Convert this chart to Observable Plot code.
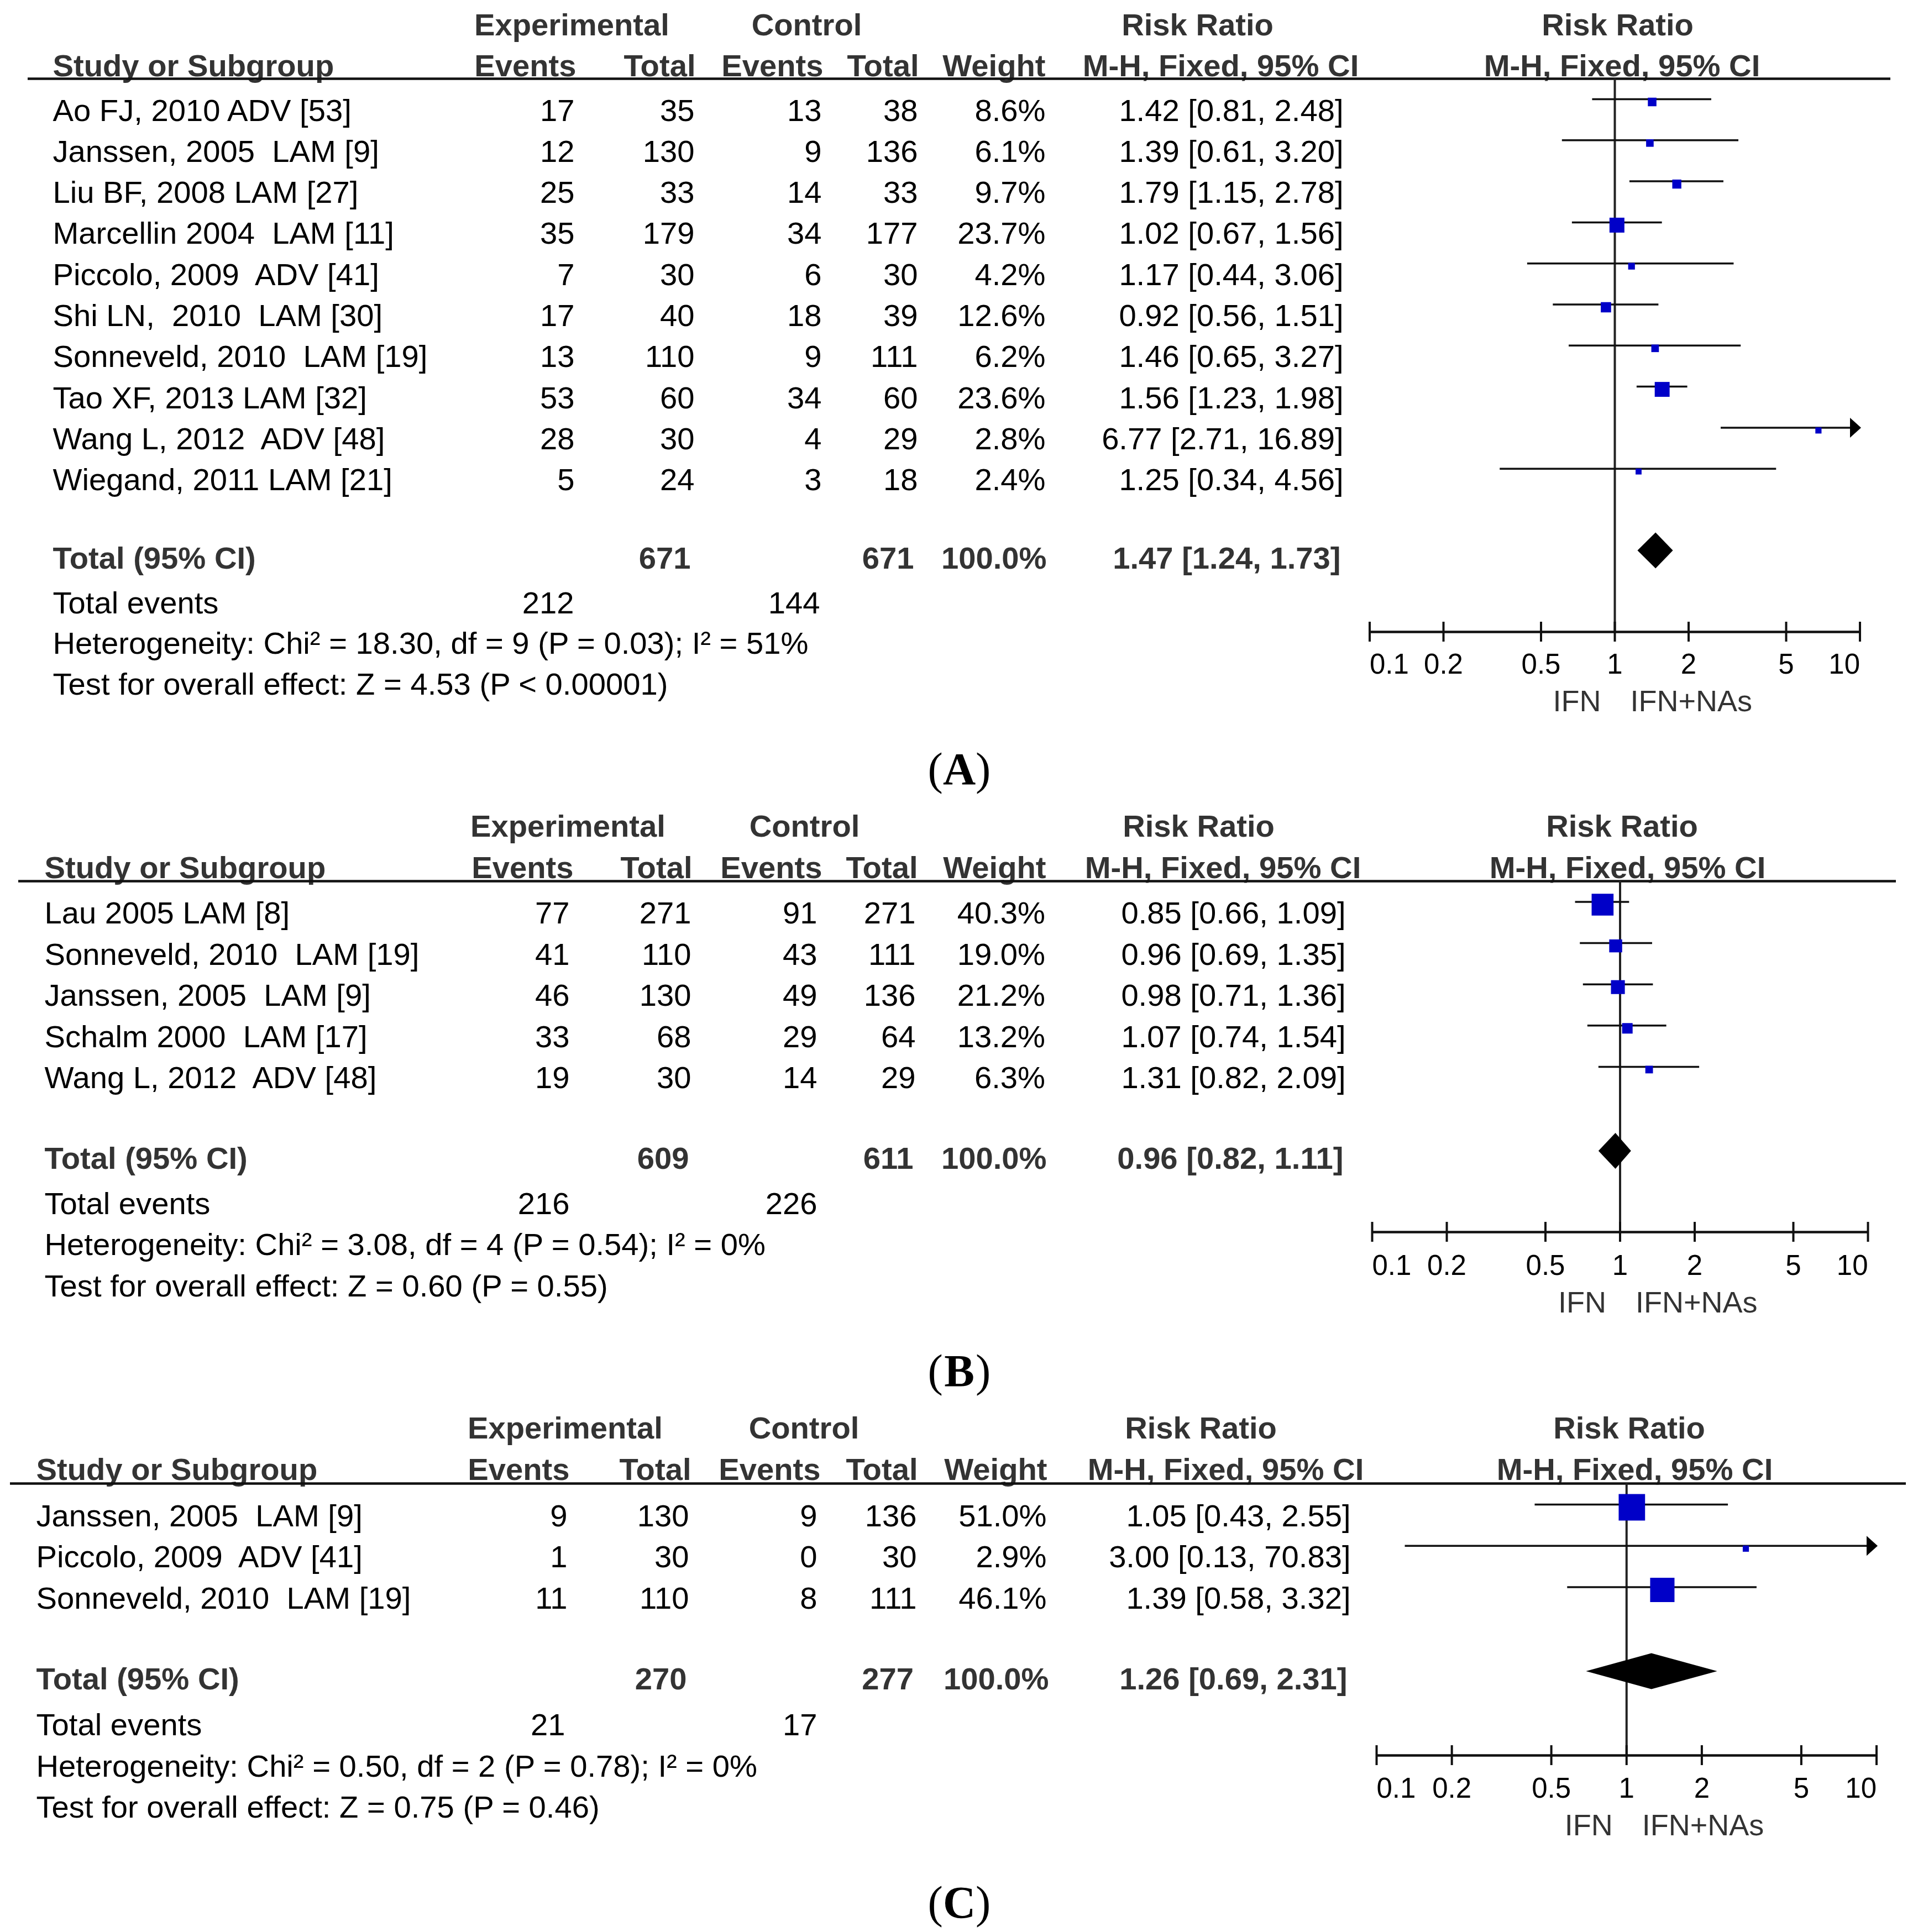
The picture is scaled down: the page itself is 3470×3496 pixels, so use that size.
<!DOCTYPE html>
<html><head><meta charset="utf-8">
<script src="https://cdn.jsdelivr.net/npm/d3@7"></script>
<script src="https://cdn.jsdelivr.net/npm/@observablehq/plot@0.6"></script>
<style>
html,body{margin:0;padding:0;background:#fff;overflow:hidden;}
#chart{width:3470px;height:3496px;background:#fff;}
#chart svg{display:block;}
svg text{white-space:pre;}
</style></head><body><div id="chart"></div>
<script>
// ---------------- shared labels ----------------
const HEAD1 = ["Experimental", "Control", "Risk Ratio", "Risk Ratio"];
const HEAD2 = ["Study or Subgroup", "Events", "Total", "Events", "Total", "Weight", "M-H, Fixed, 95% CI", "M-H, Fixed, 95% CI"];
const TICKS = [0.1, 0.2, 0.5, 1, 2, 5, 10];
const TICK_LABELS = ["0.1", "0.2", "0.5", "1", "2", "5", "10"];
const SIDE_LABELS = ["IFN", "IFN+NAs"];
const TOTAL_LABELS = ["Total (95% CI)", "Total events"];

// ---------------- panel A ----------------
const A_study = ["Ao FJ, 2010 ADV [53]", "Janssen, 2005  LAM [9]", "Liu BF, 2008 LAM [27]", "Marcellin 2004  LAM [11]", "Piccolo, 2009  ADV [41]", "Shi LN,  2010  LAM [30]", "Sonneveld, 2010  LAM [19]", "Tao XF, 2013 LAM [32]", "Wang L, 2012  ADV [48]", "Wiegand, 2011 LAM [21]"];
const A_expEvents = [17, 12, 25, 35, 7, 17, 13, 53, 28, 5];
const A_expTotal = [35, 130, 33, 179, 30, 40, 110, 60, 30, 24];
const A_ctlEvents = [13, 9, 14, 34, 6, 18, 9, 34, 4, 3];
const A_ctlTotal = [38, 136, 33, 177, 30, 39, 111, 60, 29, 18];
const A_weight = [8.6, 6.1, 9.7, 23.7, 4.2, 12.6, 6.2, 23.6, 2.8, 2.4];
const A_rr = [1.42, 1.39, 1.79, 1.02, 1.17, 0.92, 1.46, 1.56, 6.77, 1.25];
const A_lo = [0.81, 0.61, 1.15, 0.67, 0.44, 0.56, 0.65, 1.23, 2.71, 0.34];
const A_hi = [2.48, 3.20, 2.78, 1.56, 3.06, 1.51, 3.27, 1.98, 16.89, 4.56];
const A_totals = [671, 671];
const A_totalWeight = 100.0;
const A_pooled = [1.47, 1.24, 1.73];
const A_events = [212, 144];
const A_het = "Heterogeneity: Chi\u00B2 = 18.30, df = 9 (P = 0.03); I\u00B2 = 51%";
const A_test = "Test for overall effect: Z = 4.53 (P < 0.00001)";

// ---------------- panel B ----------------
const B_study = ["Lau 2005 LAM [8]", "Sonneveld, 2010  LAM [19]", "Janssen, 2005  LAM [9]", "Schalm 2000  LAM [17]", "Wang L, 2012  ADV [48]"];
const B_expEvents = [77, 41, 46, 33, 19];
const B_expTotal = [271, 110, 130, 68, 30];
const B_ctlEvents = [91, 43, 49, 29, 14];
const B_ctlTotal = [271, 111, 136, 64, 29];
const B_weight = [40.3, 19.0, 21.2, 13.2, 6.3];
const B_rr = [0.85, 0.96, 0.98, 1.07, 1.31];
const B_lo = [0.66, 0.69, 0.71, 0.74, 0.82];
const B_hi = [1.09, 1.35, 1.36, 1.54, 2.09];
const B_totals = [609, 611];
const B_totalWeight = 100.0;
const B_pooled = [0.96, 0.82, 1.11];
const B_events = [216, 226];
const B_het = "Heterogeneity: Chi\u00B2 = 3.08, df = 4 (P = 0.54); I\u00B2 = 0%";
const B_test = "Test for overall effect: Z = 0.60 (P = 0.55)";

// ---------------- panel C ----------------
const C_study = ["Janssen, 2005  LAM [9]", "Piccolo, 2009  ADV [41]", "Sonneveld, 2010  LAM [19]"];
const C_expEvents = [9, 1, 11];
const C_expTotal = [130, 30, 110];
const C_ctlEvents = [9, 0, 8];
const C_ctlTotal = [136, 30, 111];
const C_weight = [51.0, 2.9, 46.1];
const C_rr = [1.05, 3.00, 1.39];
const C_lo = [0.43, 0.13, 0.58];
const C_hi = [2.55, 70.83, 3.32];
const C_totals = [270, 277];
const C_totalWeight = 100.0;
const C_pooled = [1.26, 0.69, 2.31];
const C_events = [21, 17];
const C_het = "Heterogeneity: Chi\u00B2 = 0.50, df = 2 (P = 0.78); I\u00B2 = 0%";
const C_test = "Test for overall effect: Z = 0.75 (P = 0.46)";

// ---------------- style / layout ----------------
const W = 3470;
const FONT = "'Liberation Sans', Arial, Helvetica, sans-serif";
const SERIF = "'Liberation Serif', 'Times New Roman', serif";
const FS = 56.2, FS_TICK = 51, FS_SIDE = 54, FS_LABEL = 82;
const INK = "#000", HEADC = "#333", BLUE = "#0000C8", LINE = "#111";

const LA = {top: 0, height: 1460, rule: [50, 3420], ruleY: 142, first: 218, step: 74.3,
  head1: 63, head2: 137, total: 1028, events: 1109, het: 1182, test: 1256,
  axisY: 1143, tickLab: 1218, side: 1286, label: 1418, xr: [2477.5, 3364.5],
  col: {study: 95, expE: 1039, expT: 1256, ctlE: 1486, ctlT: 1660, wt: 1891, ci: 2430},
  tot: {expT: 1249, ctlT: 1653, wt: 1893, ci: 2425}, ev: {expE: 1038, ctlE: 1483},
  h1: [1034, 1459, 2166, 2926], h2: [95, 1042, 1258, 1489, 1662, 1891, 2208, 2934]};
const LB = {top: 1460, height: 1085, rule: [33, 3430], ruleY: 1594, first: 1670.5, step: 74.6,
  head1: 1513, head2: 1588, total: 2114.5, events: 2196, het: 2270.5, test: 2345,
  axisY: 2229, tickLab: 2306, side: 2374, label: 2507, xr: [2482, 3379],
  col: {study: 80, expE: 1030, expT: 1250, ctlE: 1478, ctlT: 1656, wt: 1890.5, ci: 2434},
  tot: {expT: 1246, ctlT: 1652, wt: 1893, ci: 2430}, ev: {expE: 1030, ctlE: 1478},
  h1: [1027, 1455, 2168, 2934], h2: [80, 1037, 1252, 1487, 1660, 1892, 2212, 2944]};
const LC = {top: 2545, height: 951, rule: [18, 3448], ruleY: 2684, first: 2761, step: 74.8,
  head1: 2602, head2: 2677, total: 3056, events: 3139, het: 3214, test: 3288,
  axisY: 3176, tickLab: 3252, side: 3320, label: 3469, xr: [2490, 3394.5],
  col: {study: 65, expE: 1026, expT: 1246, ctlE: 1478, ctlT: 1658, wt: 1893, ci: 2443},
  tot: {expT: 1242, ctlT: 1652.5, wt: 1897, ci: 2437}, ev: {expE: 1022, ctlE: 1478},
  h1: [1022, 1454, 2172, 2947], h2: [65, 1030, 1250, 1484, 1660, 1894, 2217, 2957]};

// filled arrow head pointing right, tip at the anchor
const ARROW = {draw(ctx) { ctx.moveTo(0, 0); ctx.lineTo(-20, -18); ctx.lineTo(-20, 18); ctx.closePath(); }};

const fmt2 = v => v.toFixed(2);
const ciText = (r, l, h) => `${fmt2(r)} [${fmt2(l)}, ${fmt2(h)}]`;

function panel(D, L, letter) {
  const ml = L.rule[0], mr = W - L.rule[1];
  const row = px => (px - L.first) / L.step;       // layout position -> row units
  const at = px => px - ml;                         // horizontal offset from frame left
  const rows = D.study.map((s, i) => ({row: i, study: s, expE: D.expEvents[i], expT: D.expTotal[i],
    ctlE: D.ctlEvents[i], ctlT: D.ctlTotal[i], w: D.weight[i], rr: D.rr[i], lo: D.lo[i], hi: D.hi[i]}));
  const T = (data, o) => Plot.text(data, {frameAnchor: "left", lineAnchor: "bottom", fontSize: FS, fill: INK, ...o});
  const marks = [];

  // header rows
  HEAD1.forEach((t, k) => marks.push(T([t], {y: () => row(L.head1), text: d => d, textAnchor: "middle", dx: at(L.h1[k]), fontWeight: "bold", fill: HEADC})));
  const anch2 = ["start", "end", "end", "end", "end", "end", "middle", "middle"];
  HEAD2.forEach((t, k) => marks.push(T([t], {y: () => row(L.head2), text: d => d, textAnchor: anch2[k], dx: at(L.h2[k]), fontWeight: "bold", fill: HEADC})));
  marks.push(Plot.ruleY([row(L.ruleY)], {stroke: LINE, strokeWidth: 4.5}));

  // study rows
  marks.push(T(rows, {y: "row", text: "study", textAnchor: "start", dx: at(L.col.study)}));
  marks.push(T(rows, {y: "row", text: d => String(d.expE), textAnchor: "end", dx: at(L.col.expE)}));
  marks.push(T(rows, {y: "row", text: d => String(d.expT), textAnchor: "end", dx: at(L.col.expT)}));
  marks.push(T(rows, {y: "row", text: d => String(d.ctlE), textAnchor: "end", dx: at(L.col.ctlE)}));
  marks.push(T(rows, {y: "row", text: d => String(d.ctlT), textAnchor: "end", dx: at(L.col.ctlT)}));
  marks.push(T(rows, {y: "row", text: d => d.w.toFixed(1) + "%", textAnchor: "end", dx: at(L.col.wt)}));
  marks.push(T(rows, {y: "row", text: d => ciText(d.rr, d.lo, d.hi), textAnchor: "end", dx: at(L.col.ci)}));

  // total row (bold)
  const tr = row(L.total);
  const bold = {y: () => tr, fontWeight: "bold", fill: HEADC, text: d => d};
  marks.push(T([TOTAL_LABELS[0]], {...bold, textAnchor: "start", dx: at(L.col.study)}));
  marks.push(T([String(D.totals[0])], {...bold, textAnchor: "end", dx: at(L.tot.expT)}));
  marks.push(T([String(D.totals[1])], {...bold, textAnchor: "end", dx: at(L.tot.ctlT)}));
  marks.push(T([D.totalWeight.toFixed(1) + "%"], {...bold, textAnchor: "end", dx: at(L.tot.wt)}));
  marks.push(T([ciText(...D.pooled)], {...bold, textAnchor: "end", dx: at(L.tot.ci)}));

  // total events, heterogeneity, overall effect
  const er = row(L.events);
  marks.push(T([TOTAL_LABELS[1]], {y: () => er, text: d => d, textAnchor: "start", dx: at(L.col.study)}));
  marks.push(T([String(D.events[0])], {y: () => er, text: d => d, textAnchor: "end", dx: at(L.ev.expE)}));
  marks.push(T([String(D.events[1])], {y: () => er, text: d => d, textAnchor: "end", dx: at(L.ev.ctlE)}));
  marks.push(T([D.het], {y: () => row(L.het), text: d => d, textAnchor: "start", dx: at(L.col.study)}));
  marks.push(T([D.test], {y: () => row(L.test), text: d => d, textAnchor: "start", dx: at(L.col.study)}));

  // forest plot frame: null line, axis, ticks
  const ar = row(L.axisY);
  marks.push(Plot.ruleX([1], {y1: () => row(L.ruleY), y2: () => ar, stroke: "#222", strokeWidth: 4}));
  marks.push(Plot.ruleY([ar], {x1: () => 0.1, x2: () => 10, stroke: LINE, strokeWidth: 4.5}));
  marks.push(Plot.ruleX(TICKS, {y1: () => ar, y2: () => ar, insetTop: -18, insetBottom: -18, stroke: LINE, strokeWidth: 4}));
  const tl = row(L.tickLab);
  const tk = TICKS.map((v, i) => ({v, t: TICK_LABELS[i]}));
  const tickText = (data, anchor) => Plot.text(data, {x: "v", y: () => tl, text: "t", textAnchor: anchor, lineAnchor: "bottom", fontSize: FS_TICK, fill: INK});
  marks.push(tickText(tk.slice(0, 1), "start"));
  marks.push(tickText(tk.slice(1, -1), "middle"));
  marks.push(tickText(tk.slice(-1), "end"));
  const sr = row(L.side);
  marks.push(Plot.text([SIDE_LABELS[0]], {x: () => 1, y: () => sr, text: d => d, textAnchor: "end", dx: -25, lineAnchor: "bottom", fontSize: FS_SIDE, fill: HEADC}));
  marks.push(Plot.text([SIDE_LABELS[1]], {x: () => 1, y: () => sr, text: d => d, textAnchor: "start", dx: 28, lineAnchor: "bottom", fontSize: FS_SIDE, fill: HEADC}));

  // confidence intervals, weighted squares, arrows for clipped intervals
  marks.push(Plot.ruleY(rows, {x1: "lo", x2: d => Math.min(d.hi, 10), y: "row", dy: -39, stroke: LINE, strokeWidth: 3.5}));
  marks.push(Plot.dot(rows, {x: "rr", y: "row", r: "w", symbol: "square", fill: BLUE, dy: -34}));
  marks.push(Plot.dot(rows.filter(d => d.hi > 10), {x: () => 10, y: "row", symbol: ARROW, fill: "#000", dx: 2, dy: -39}));

  // pooled diamond
  const h = 32.5 / L.step;
  const dia = [{x: D.pooled[1], y1: tr, y2: tr}, {x: D.pooled[0], y1: tr - h, y2: tr + h}, {x: D.pooled[2], y1: tr, y2: tr}];
  marks.push(Plot.area(dia, {x1: "x", y1: "y1", y2: "y2", fill: "#000", dy: -32}));

  // panel letter (A)/(B)/(C)
  const lr = row(L.label);
  const lab = {y: () => lr, text: d => d, lineAnchor: "bottom", fontSize: FS_LABEL, fontFamily: SERIF, fill: "#000", frameAnchor: "left"};
  marks.push(Plot.text(["("], {...lab, textAnchor: "end", dx: at(1735 - 29.6)}));
  marks.push(Plot.text([letter], {...lab, textAnchor: "middle", fontWeight: "bold", dx: at(1735)}));
  marks.push(Plot.text([")"], {...lab, textAnchor: "start", dx: at(1735 + 29.6)}));

  return Plot.plot({
    width: W, height: L.height,
    marginLeft: ml, marginRight: mr, marginTop: 0, marginBottom: 0,
    x: {type: "log", domain: [0.1, 10], range: L.xr, axis: null},
    y: {type: "linear", domain: [0, 1], range: [L.first - L.top, L.first + L.step - L.top], axis: null},
    r: {type: "linear", domain: [0, 100], range: [9 / Math.sqrt(Math.PI), 85 / Math.sqrt(Math.PI)]},
    style: {fontFamily: FONT, background: "#fff", overflow: "visible"},
    marks
  });
}

const chart = document.getElementById("chart");
chart.append(panel({study: A_study, expEvents: A_expEvents, expTotal: A_expTotal, ctlEvents: A_ctlEvents, ctlTotal: A_ctlTotal,
  weight: A_weight, rr: A_rr, lo: A_lo, hi: A_hi, totals: A_totals, totalWeight: A_totalWeight, pooled: A_pooled, events: A_events, het: A_het, test: A_test}, LA, "A"));
chart.append(panel({study: B_study, expEvents: B_expEvents, expTotal: B_expTotal, ctlEvents: B_ctlEvents, ctlTotal: B_ctlTotal,
  weight: B_weight, rr: B_rr, lo: B_lo, hi: B_hi, totals: B_totals, totalWeight: B_totalWeight, pooled: B_pooled, events: B_events, het: B_het, test: B_test}, LB, "B"));
chart.append(panel({study: C_study, expEvents: C_expEvents, expTotal: C_expTotal, ctlEvents: C_ctlEvents, ctlTotal: C_ctlTotal,
  weight: C_weight, rr: C_rr, lo: C_lo, hi: C_hi, totals: C_totals, totalWeight: C_totalWeight, pooled: C_pooled, events: C_events, het: C_het, test: C_test}, LC, "C"));
</script></body></html>
